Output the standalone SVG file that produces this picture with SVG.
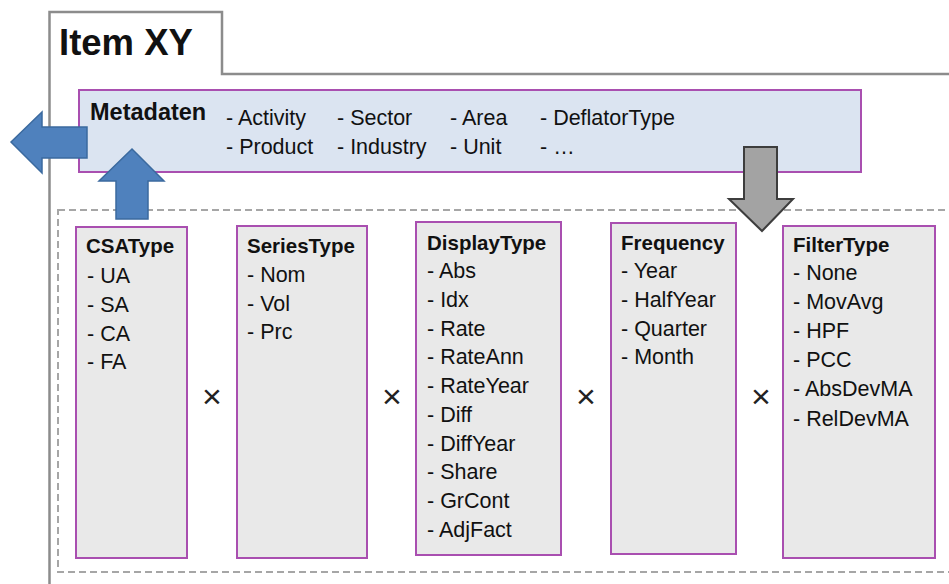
<svg xmlns="http://www.w3.org/2000/svg" width="949" height="584" viewBox="0 0 949 584">
<style>
text{font-family:"Liberation Sans",Arial,sans-serif;fill:#111}
.title{font-weight:bold;font-size:20.5px}
.item{font-size:21.5px}
.meta{font-size:21.5px}
.box{fill:#e9e9e9;stroke:#a94fb0;stroke-width:2}
.times{font-size:34px;fill:#222}
</style>
<rect width="949" height="584" fill="#fff"/>
<g id="frame">
<path d="M49.5,584 V12 H222 V74 H949" fill="none" stroke="#8c8c8c" stroke-width="2.5"/>
<text x="59" y="55" font-size="36.5" font-weight="bold">Item XY</text>
</g>
<rect x="58" y="210" width="900" height="362" fill="none" stroke="#a6a6a6" stroke-width="2" stroke-dasharray="7,4"/>
<g id="metadaten">
<rect x="79" y="90" width="782" height="82" fill="#dbe4f1" stroke="#a94fb0" stroke-width="2"/>
<text x="90" y="120" font-size="23.5" font-weight="bold">Metadaten</text>
<text class="meta" x="226" y="125">- Activity</text>
<text class="meta" x="337" y="125">- Sector</text>
<text class="meta" x="450" y="125">- Area</text>
<text class="meta" x="540" y="125">- DeflatorType</text>
<text class="meta" x="226" y="154">- Product</text>
<text class="meta" x="337" y="154">- Industry</text>
<text class="meta" x="450" y="154">- Unit</text>
<text class="meta" x="540" y="154">- …</text>
</g>
<g id="connectors">
<path d="M11,142 L42,112 L42,127 L87,127 L87,158 L42,158 L42,173 Z" fill="#4f81bd" stroke="#3b6a9f" stroke-width="1.5"/>
<path d="M132,149 L164,181 L148,181 L148,219 L116,219 L116,181 L99,181 Z" fill="#4f81bd" stroke="#3b6a9f" stroke-width="1.5"/>
<path d="M744,147 L777,147 L777,199 L793,199 L762,231 L729,199 L744,199 Z" fill="#a3a3a3" stroke="#3d3d3d" stroke-width="2"/>
</g>
<g id="csatype">
<rect class="box" x="76" y="227" width="111" height="331"/>
<text class="title" x="86" y="253">CSAType</text>
<text class="item" x="87" y="283">- UA</text>
<text class="item" x="87" y="312">- SA</text>
<text class="item" x="87" y="341">- CA</text>
<text class="item" x="87" y="369">- FA</text>
</g>
<g id="seriestype">
<rect class="box" x="237" y="226" width="130" height="332"/>
<text class="title" x="247" y="253">SeriesType</text>
<text class="item" x="247" y="282">- Nom</text>
<text class="item" x="247" y="311">- Vol</text>
<text class="item" x="247" y="339">- Prc</text>
</g>
<g id="displaytype">
<rect class="box" x="416" y="222" width="145" height="333"/>
<text class="title" x="427" y="250">DisplayType</text>
<text class="item" x="427" y="278">- Abs</text>
<text class="item" x="427" y="307">- Idx</text>
<text class="item" x="427" y="336">- Rate</text>
<text class="item" x="427" y="364">- RateAnn</text>
<text class="item" x="427" y="393">- RateYear</text>
<text class="item" x="427" y="422">- Diff</text>
<text class="item" x="427" y="451">- DiffYear</text>
<text class="item" x="427" y="479">- Share</text>
<text class="item" x="427" y="508">- GrCont</text>
<text class="item" x="427" y="537">- AdjFact</text>
</g>
<g id="frequency">
<rect class="box" x="611" y="223" width="125" height="331"/>
<text class="title" x="621" y="250">Frequency</text>
<text class="item" x="621" y="278">- Year</text>
<text class="item" x="621" y="307">- HalfYear</text>
<text class="item" x="621" y="336">- Quarter</text>
<text class="item" x="621" y="364">- Month</text>
</g>
<g id="filtertype">
<rect class="box" x="783" y="226" width="152" height="332"/>
<text class="title" x="793" y="252">FilterType</text>
<text class="item" x="793" y="280">- None</text>
<text class="item" x="793" y="309">- MovAvg</text>
<text class="item" x="793" y="338">- HPF</text>
<text class="item" x="793" y="367">- PCC</text>
<text class="item" x="793" y="396">- AbsDevMA</text>
<text class="item" x="793" y="426">- RelDevMA</text>
</g>
<g id="times">
<text class="times" x="212" y="408" text-anchor="middle">×</text>
<text class="times" x="392" y="408" text-anchor="middle">×</text>
<text class="times" x="586" y="408" text-anchor="middle">×</text>
<text class="times" x="761" y="408" text-anchor="middle">×</text>
</g>
</svg>
